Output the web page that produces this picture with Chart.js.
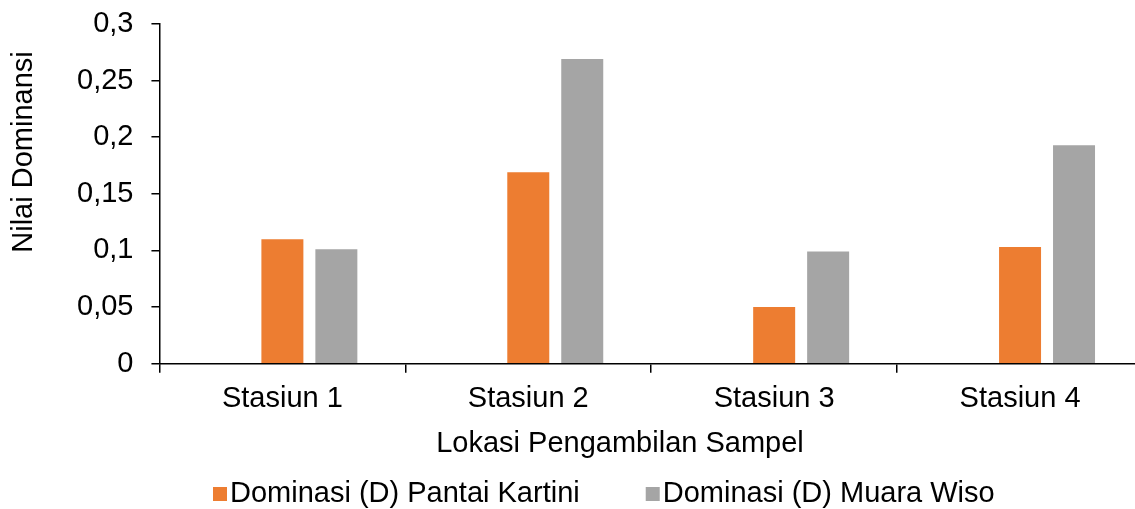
<!DOCTYPE html>
<html>
<head>
<meta charset="utf-8">
<script src="https://cdn.jsdelivr.net/npm/chart.js@4"></script>
<style>
  html, body { margin: 0; padding: 0; background: #fff; overflow: hidden; }
  #wrap { width: 1150px; height: 509px; }
</style>
</head>
<body>
<div id="wrap"><canvas id="chart" width="1150" height="509"></canvas></div>
<script>
const categories = ['Stasiun 1', 'Stasiun 2', 'Stasiun 3', 'Stasiun 4'];
const emptySeries = [null, null, null, null];
const pantaiKartini = [0.11, 0.169, 0.05, 0.103];
const muaraWiso = [0.101, 0.269, 0.099, 0.193];
const yTickLabels = ['0', '0,05', '0,1', '0,15', '0,2', '0,25', '0,3'];

const seriesNames = ['', 'Dominasi (D) Pantai Kartini', 'Dominasi (D) Muara Wiso'];
const xTitle = 'Lokasi Pengambilan Sampel';
const yTitle = 'Nilai Dominansi';

const FONT_FAMILY = '"Liberation Sans", Arial, sans-serif';
const FONT_SIZE = 29;
const ORANGE = '#ED7D31';
const GRAY = '#A5A5A5';
const AXIS = '#000000';

// axis titles and legend are painted by hand so they can sit where the layout wants them
const extras = {
    id: 'extras',
    afterDraw(chart) {
        const ctx = chart.ctx;
        ctx.save();
        ctx.fillStyle = '#000';
        ctx.font = FONT_SIZE + 'px ' + FONT_FAMILY;
        ctx.textBaseline = 'middle';

        ctx.textAlign = 'center';
        ctx.fillText(xTitle, 620, 444);

        // legend row
        const legendY = 494;
        let x = 213;
        chart.data.datasets.forEach((ds) => {
            if (!ds.label) return;
            ctx.fillStyle = ds.backgroundColor;
            ctx.fillRect(x, legendY - 7, 14, 14);
            ctx.fillStyle = '#000';
            ctx.textAlign = 'left';
            ctx.fillText(ds.label, x + 17, legendY);
            x += 17 + ctx.measureText(ds.label).width + 66;
        });

        ctx.translate(24, 152);
        ctx.rotate(-Math.PI / 2);
        ctx.textAlign = 'center';
        ctx.fillText(yTitle, 0, 0);
        ctx.restore();
    }
};

const ctx = document.getElementById('chart').getContext('2d');
new Chart(ctx, {
    type: 'bar',
    data: {
        labels: categories,
        datasets: [
            { label: seriesNames[0], data: emptySeries, backgroundColor: '#4472C4' },
            { label: seriesNames[1], data: pantaiKartini, backgroundColor: ORANGE },
            { label: seriesNames[2], data: muaraWiso, backgroundColor: GRAY }
        ]
    },
    options: {
        responsive: false,
        animation: false,
        devicePixelRatio: 1,
        categoryPercentage: 0.6585,
        barPercentage: 0.778,
        layout: { padding: { left: 59, right: 7, top: 24, bottom: 83.5 } },
        plugins: {
            legend: { display: false },
            tooltip: { enabled: false }
        },
        scales: {
            x: {
                grid: {
                    display: true,
                    offset: true,
                    drawOnChartArea: false,
                    drawTicks: true,
                    tickLength: 9,
                    color: AXIS,
                    lineWidth: 1.5
                },
                border: { display: true, color: AXIS, width: 1.5 },
                ticks: {
                    color: '#000',
                    padding: 9,
                    font: { family: FONT_FAMILY, size: FONT_SIZE }
                }
            },
            y: {
                min: 0,
                max: 0.3,
                // the top label may hang into the padding, no extra room needed
                afterFit(scale) {
                    scale.paddingTop = 0;
                    scale.paddingBottom = 0;
                },
                grid: {
                    display: true,
                    drawOnChartArea: false,
                    drawTicks: true,
                    tickLength: 8,
                    color: AXIS,
                    lineWidth: 1.5
                },
                border: { display: true, color: AXIS, width: 1.5 },
                ticks: {
                    stepSize: 0.05,
                    color: '#000',
                    padding: 18,
                    font: { family: FONT_FAMILY, size: FONT_SIZE },
                    callback: (v, i) => yTickLabels[i]
                }
            }
        }
    },
    plugins: [extras]
});
</script>
</body>
</html>
